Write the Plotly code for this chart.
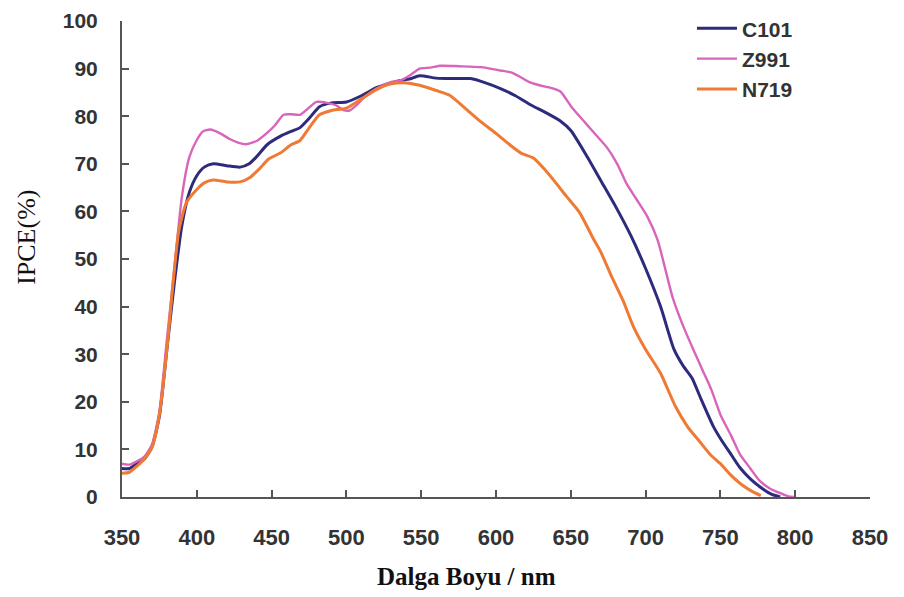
import plotly.graph_objects as go

# Wavelength grids (nm) and IPCE values (%)
c101_x = [350, 355, 360, 365, 370, 375, 380, 385, 390, 395, 400, 405, 411, 420, 429, 435, 440, 447, 456, 463, 469, 475, 482, 490, 500, 510, 520, 530, 536, 542, 549, 560, 570, 583, 593, 603, 613, 623, 633, 643, 650, 660, 670, 680, 690, 700, 710, 719, 725, 731, 737, 745, 750, 757, 763, 770, 777, 784, 790]
c101_y = [6, 6, 7, 8, 10.5, 17, 31, 45, 57, 64, 67.5, 69.3, 70, 69.6, 69.3, 70, 71.5, 74, 75.8, 76.8, 77.6, 79.5, 82, 82.8, 83, 84.3, 86, 87, 87.5, 87.8, 88.5, 88, 87.9, 87.9, 87, 85.8, 84.3, 82.4, 80.8, 79, 77, 72, 66.5, 61, 55, 48, 40, 31, 27.6, 25, 20.6, 15, 12.3, 9, 6.2, 3.8, 2, 0.6, 0]
z991_x = [350, 355, 360, 365, 370, 375, 380, 385, 390, 395, 400, 404, 409, 415, 422, 428, 433, 440, 447, 452, 458, 463, 469, 475, 480, 487, 493, 498, 502, 507, 512, 520, 530, 536, 542, 549, 556, 563, 575, 590, 603, 610, 616, 622, 629, 636, 643, 651, 660, 667, 674, 681, 687, 694, 701, 708, 718, 725, 732, 738, 744, 750, 757, 763, 770, 776, 783, 790, 795, 799]
z991_y = [7, 6.8, 7.5, 8.5, 11, 18, 33, 48, 63, 71.4, 75, 76.8, 77.2, 76.5, 75.2, 74.4, 74.1, 74.8, 76.5, 78, 80.3, 80.4, 80.3, 81.8, 83, 82.8, 82.3, 81.3, 81.2, 82.4, 84, 85.8, 87.2, 87.5, 88.5, 90, 90.2, 90.6, 90.5, 90.3, 89.6, 89.2, 88.3, 87.2, 86.5, 86, 85.2, 81.7, 78.5, 76, 73.5, 70, 66, 62.5, 59, 54, 42, 36, 30.9, 26.7, 22.5, 17.3, 13, 9, 6, 3.5, 1.8, 0.8, 0.2, 0]
n719_x = [350, 355, 360, 365, 370, 375, 380, 384, 388, 393, 400, 405, 411, 420, 429, 435, 442, 448, 456, 463, 469, 475, 482, 490, 500, 510, 520, 530, 540, 549, 560, 569, 580, 590, 600, 610, 617, 625, 632, 640, 647, 656, 665, 670, 677, 685, 692, 700, 710, 720, 728, 736, 743, 750, 757, 763, 770, 777]
n719_y = [5, 5.2, 6.5, 8, 10.4, 17.3, 30.9, 44.6, 56, 61.8, 64.6, 66, 66.6, 66.2, 66.2, 67, 69, 71, 72.3, 74, 74.9, 77.5, 80.3, 81.2, 81.7, 83.6, 85.6, 86.8, 87, 86.5, 85.4, 84.4, 81.5, 78.8, 76.4, 73.8, 72.2, 71.2, 69, 66, 63.2, 59.7, 54.3, 51.5, 46.5, 41.2, 35.7, 31, 26, 19, 14.8, 11.7, 9, 7, 4.6, 2.9, 1.4, 0.3]

series = [
    ("C101", c101_x, c101_y, "#2d2b7c", 3),
    ("Z991", z991_x, z991_y, "#d864bb", 2.4),
    ("N719", n719_x, n719_y, "#ef7a33", 3),
]

x_ticks = [350, 400, 450, 500, 550, 600, 650, 700, 750, 800, 850]
y_ticks = [0, 10, 20, 30, 40, 50, 60, 70, 80, 90, 100]

fig = go.Figure()
for name, xs, ys, color, w in series:
    fig.add_trace(go.Scatter(
        x=xs, y=ys, name=name, mode="lines",
        line=dict(color=color, width=w, shape="spline", smoothing=0.6),
    ))

x_tick_font = dict(family="Liberation Sans, Arial, sans-serif", size=22, color="#333333", weight="bold")
y_tick_font = dict(family="Liberation Sans, Arial, sans-serif", size=21, color="#333333", weight="bold")
legend_font = dict(family="Liberation Sans, Arial, sans-serif", size=21, color="#333333", weight="bold")
axis_common = dict(
    showline=True, linecolor="#555555", linewidth=2,
    ticks="inside", ticklen=7, tickwidth=2, tickcolor="#555555",
    showgrid=False, zeroline=False, automargin=False,
    ticklabeloverflow="allow",
)

# the page body adds an 8px offset; the figure size/margins compensate for it
fig.update_layout(
    width=888, height=589,
    margin=dict(l=114, r=26, t=13, b=100, autoexpand=False),
    paper_bgcolor="white", plot_bgcolor="white",
    showlegend=True,
    legend=dict(
        x=0.762, y=1.027, xanchor="left", yanchor="top",
        font=legend_font,
        bgcolor="rgba(0,0,0,0)", tracegroupgap=0, itemwidth=40,
    ),
    xaxis=dict(range=[350, 850], tickvals=x_ticks, ticktext=[str(v) for v in x_ticks],
               ticklabelstandoff=20, tickfont=x_tick_font, **axis_common),
    yaxis=dict(range=[0, 100], tickvals=y_ticks, ticktext=[str(v) for v in y_ticks],
               ticklabelstandoff=18, tickfont=y_tick_font, **axis_common),
    annotations=[
        dict(text="<b>Dalga Boyu / nm</b>", xref="paper", yref="paper",
             x=0.46, y=-0.166, xanchor="center", yanchor="middle", showarrow=False,
             font=dict(family="Liberation Serif, Times New Roman, serif", size=25, color="#111111")),
        dict(text="IPCE(%)", xref="paper", yref="paper", textangle=-90,
             x=-0.128, y=0.545, xanchor="center", yanchor="middle", showarrow=False,
             font=dict(family="Liberation Serif, Times New Roman, serif", size=26, color="#111111")),
    ],
)

fig.write_html("out.html")
